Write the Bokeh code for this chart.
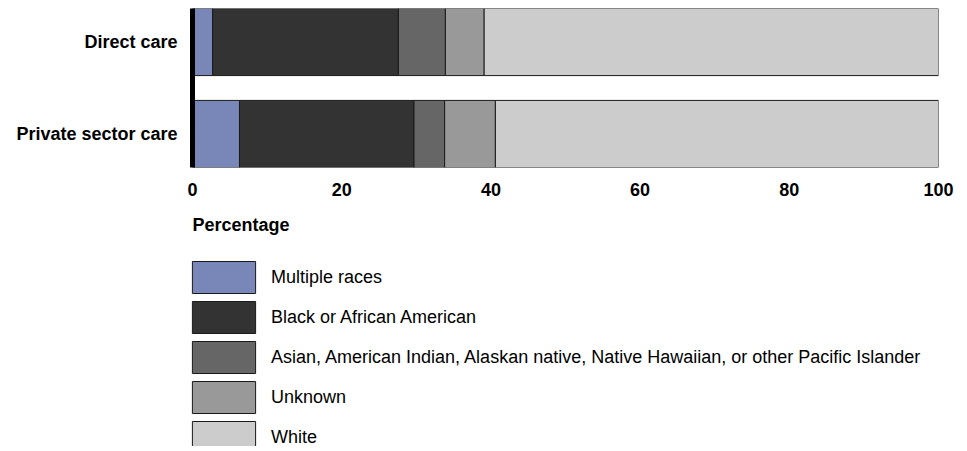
from bokeh.plotting import figure
from bokeh.layouts import column
from bokeh.models import ColumnDataSource, FixedTicker, Legend, LegendItem, Title
from bokeh.embed import file_html
from bokeh.resources import INLINE

# ---- data ----
categories = ["Direct care", "Private sector care"]
series_names = [
    "Multiple races",
    "Black or African American",
    "Asian, American Indian, Alaskan native, Native Hawaiian, or other Pacific Islander",
    "Unknown",
    "White",
]
multiple_races = [2.7, 6.3]
black = [24.9, 23.4]
asian_other = [6.3, 4.1]
unknown = [5.2, 6.8]
white = [60.9, 59.4]
x_ticks = [0, 20, 40, 60, 80, 100]
axis_title = "Percentage"

colors = ["#7887B8", "#333333", "#666666", "#999999", "#CCCCCC"]
FONT = "Liberation Sans"

keys = ["multiple", "black", "asian", "unknown", "white"]
n = len(categories)
ypos = [n - 1 - i for i in range(n)]
source = ColumnDataSource(data=dict(
    y=ypos,
    multiple=multiple_races,
    black=black,
    asian=asian_other,
    unknown=unknown,
    white=white,
))

BAR_H = 0.73
TOTAL_W = 951
TOP_H = 252
LEG_H = 194

# ---------- bar chart ----------
p = figure(
    frame_width=746, frame_height=159,
    x_range=(0, 100), y_range=(-BAR_H / 2, (n - 1) + BAR_H / 2),
    output_backend="svg", toolbar_location=None,
    min_border_left=192, min_border_right=21, min_border_top=8, min_border_bottom=TOP_H - 8 - 159,
)
p.outline_line_color = None
p.xgrid.visible = False
p.ygrid.visible = False
p.background_fill_color = "white"
p.border_fill_color = "white"
if "frame_align" in p.properties():
    p.frame_align = False

p.hbar_stack(
    keys, y="y", height=BAR_H, source=source,
    fill_color=colors, line_color="#1a1a1a", line_width=1,
)

xa = p.xaxis[0]
xa.ticker = FixedTicker(ticks=x_ticks)
xa.axis_line_color = None
xa.major_tick_line_color = None
xa.minor_tick_line_color = None
xa.major_tick_out = 0
xa.major_tick_in = 0
xa.major_label_standoff = 15
xa.major_label_text_font = FONT
xa.major_label_text_font_size = "18px"
xa.major_label_text_font_style = "bold"
xa.major_label_text_color = "black"

ya = p.yaxis[0]
ya.ticker = FixedTicker(ticks=ypos)
ya.major_label_overrides = {ypos[i]: categories[i] for i in range(n)}
ya.axis_line_color = "black"
ya.axis_line_width = 5
ya.major_tick_line_color = None
ya.minor_tick_line_color = None
ya.major_tick_out = 0
ya.major_tick_in = 0
ya.major_label_standoff = 15
ya.major_label_text_font = FONT
ya.major_label_text_font_size = "18px"
ya.major_label_text_font_style = "bold"
ya.major_label_text_color = "black"

xtitle = Title(
    text=axis_title, align="left", standoff=10,
    text_font=FONT, text_font_size="18px", text_font_style="bold", text_color="black",
)
if "padding" in xtitle.properties():
    xtitle.padding = (0, 0, 9, 0)
p.add_layout(xtitle, "below")

# ---------- legend panel ----------
q = figure(
    width=TOTAL_W, height=LEG_H, x_range=(0, 1), y_range=(0, 1),
    output_backend="svg", toolbar_location=None,
    x_axis_location=None, y_axis_location=None,
    min_border_left=0, min_border_right=0, min_border_top=0, min_border_bottom=0,
)
q.outline_line_color = None
q.xgrid.visible = False
q.ygrid.visible = False
q.background_fill_color = "white"
q.border_fill_color = "white"
if "frame_align" in q.properties():
    q.frame_align = False
leg_renderers = q.hbar_stack(
    keys, y="y", height=BAR_H, source=source,
    fill_color=colors, line_color="#1a1a1a", line_width=1, visible=False,
)
items = [LegendItem(label=series_names[i], renderers=[leg_renderers[i]]) for i in range(len(keys))]
legend = Legend(
    items=items, location=(184, -11), orientation="vertical",
    glyph_width=79, glyph_height=40, spacing=-1, label_standoff=8,
    label_text_font=FONT, label_text_font_size="18px", label_text_color="black",
    padding=0, margin=0, border_line_color=None, background_fill_alpha=0,
    inactive_fill_alpha=0,
)
q.add_layout(legend, "center")

layout = column(p, q, spacing=0)
open("out.html", "w").write(file_html(layout, INLINE))
